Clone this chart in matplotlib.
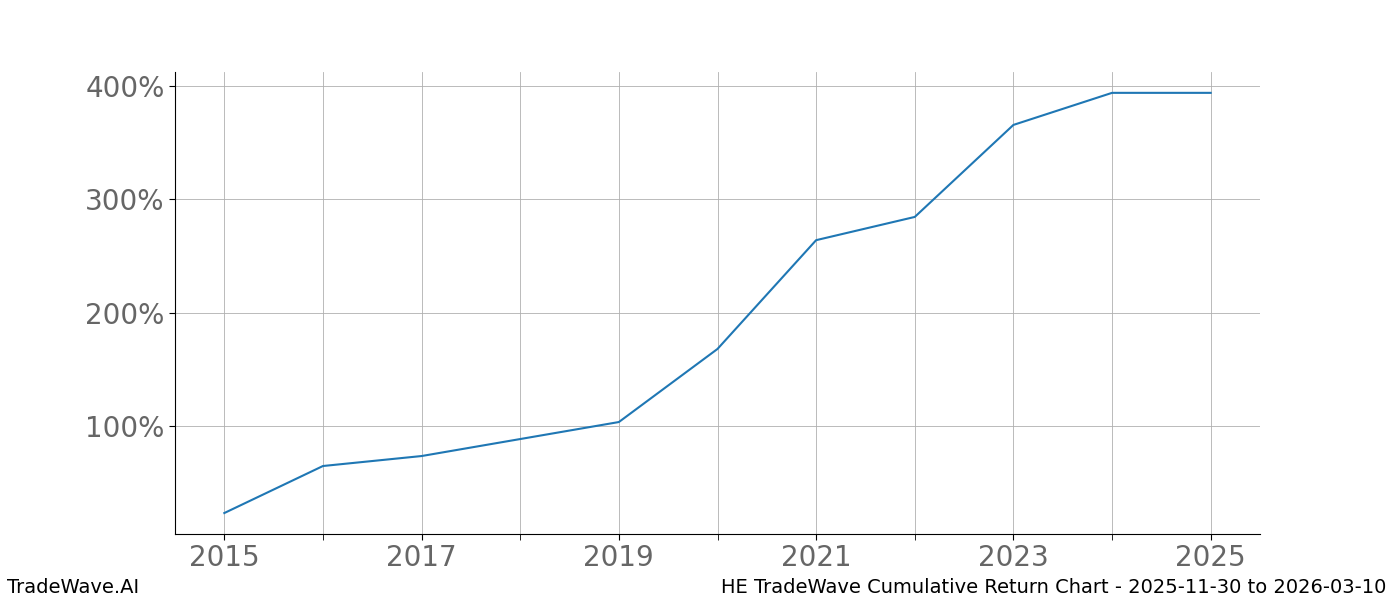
import numpy as np
import matplotlib
matplotlib.use("Agg")
import matplotlib.pyplot as plt
from matplotlib.ticker import FuncFormatter, MultipleLocator

# data
years = [2015, 2016, 2017, 2018, 2019, 2020, 2021, 2022, 2023, 2024, 2025]
returns = [23.2, 64.7, 73.5, 88.5, 103.5, 168.0, 264.0, 284.5, 365.7, 394.0, 394.0]

label_years = [2015, 2017, 2019, 2021, 2023, 2025]
y_ticks = [100, 200, 300, 400]

fig = plt.figure(figsize=(14, 6), dpi=100)
ax = fig.add_axes([0.125, 0.11, 0.775, 0.77])

ax.plot(years, returns, color="#1f77b4", linewidth=1.5)

ax.set_xlim(2014.5, 2025.5)
ax.set_ylim(4.7, 412.4)

ax.set_xticks(label_years)
ax.xaxis.set_minor_locator(MultipleLocator(1))
ax.set_yticks(y_ticks)
ax.yaxis.set_major_formatter(FuncFormatter(lambda v, p: f"{v:.0f}%"))

ax.grid(True, which="both", axis="x", color="#b0b0b0", linewidth=0.6)
ax.grid(True, which="major", axis="y", color="#b0b0b0", linewidth=0.6)

ax.tick_params(axis="both", which="major", labelsize=20, labelcolor="#666666", length=4)
ax.tick_params(axis="x", which="minor", length=4)

ax.spines["top"].set_visible(False)
ax.spines["right"].set_visible(False)

fig.text(0.005, 0.005, "TradeWave.AI", fontsize=14, ha="left", va="bottom")
fig.text(0.99, 0.005, "HE TradeWave Cumulative Return Chart - 2025-11-30 to 2026-03-10",
         fontsize=14, ha="right", va="bottom")

fig.savefig("out.png", dpi=100)
